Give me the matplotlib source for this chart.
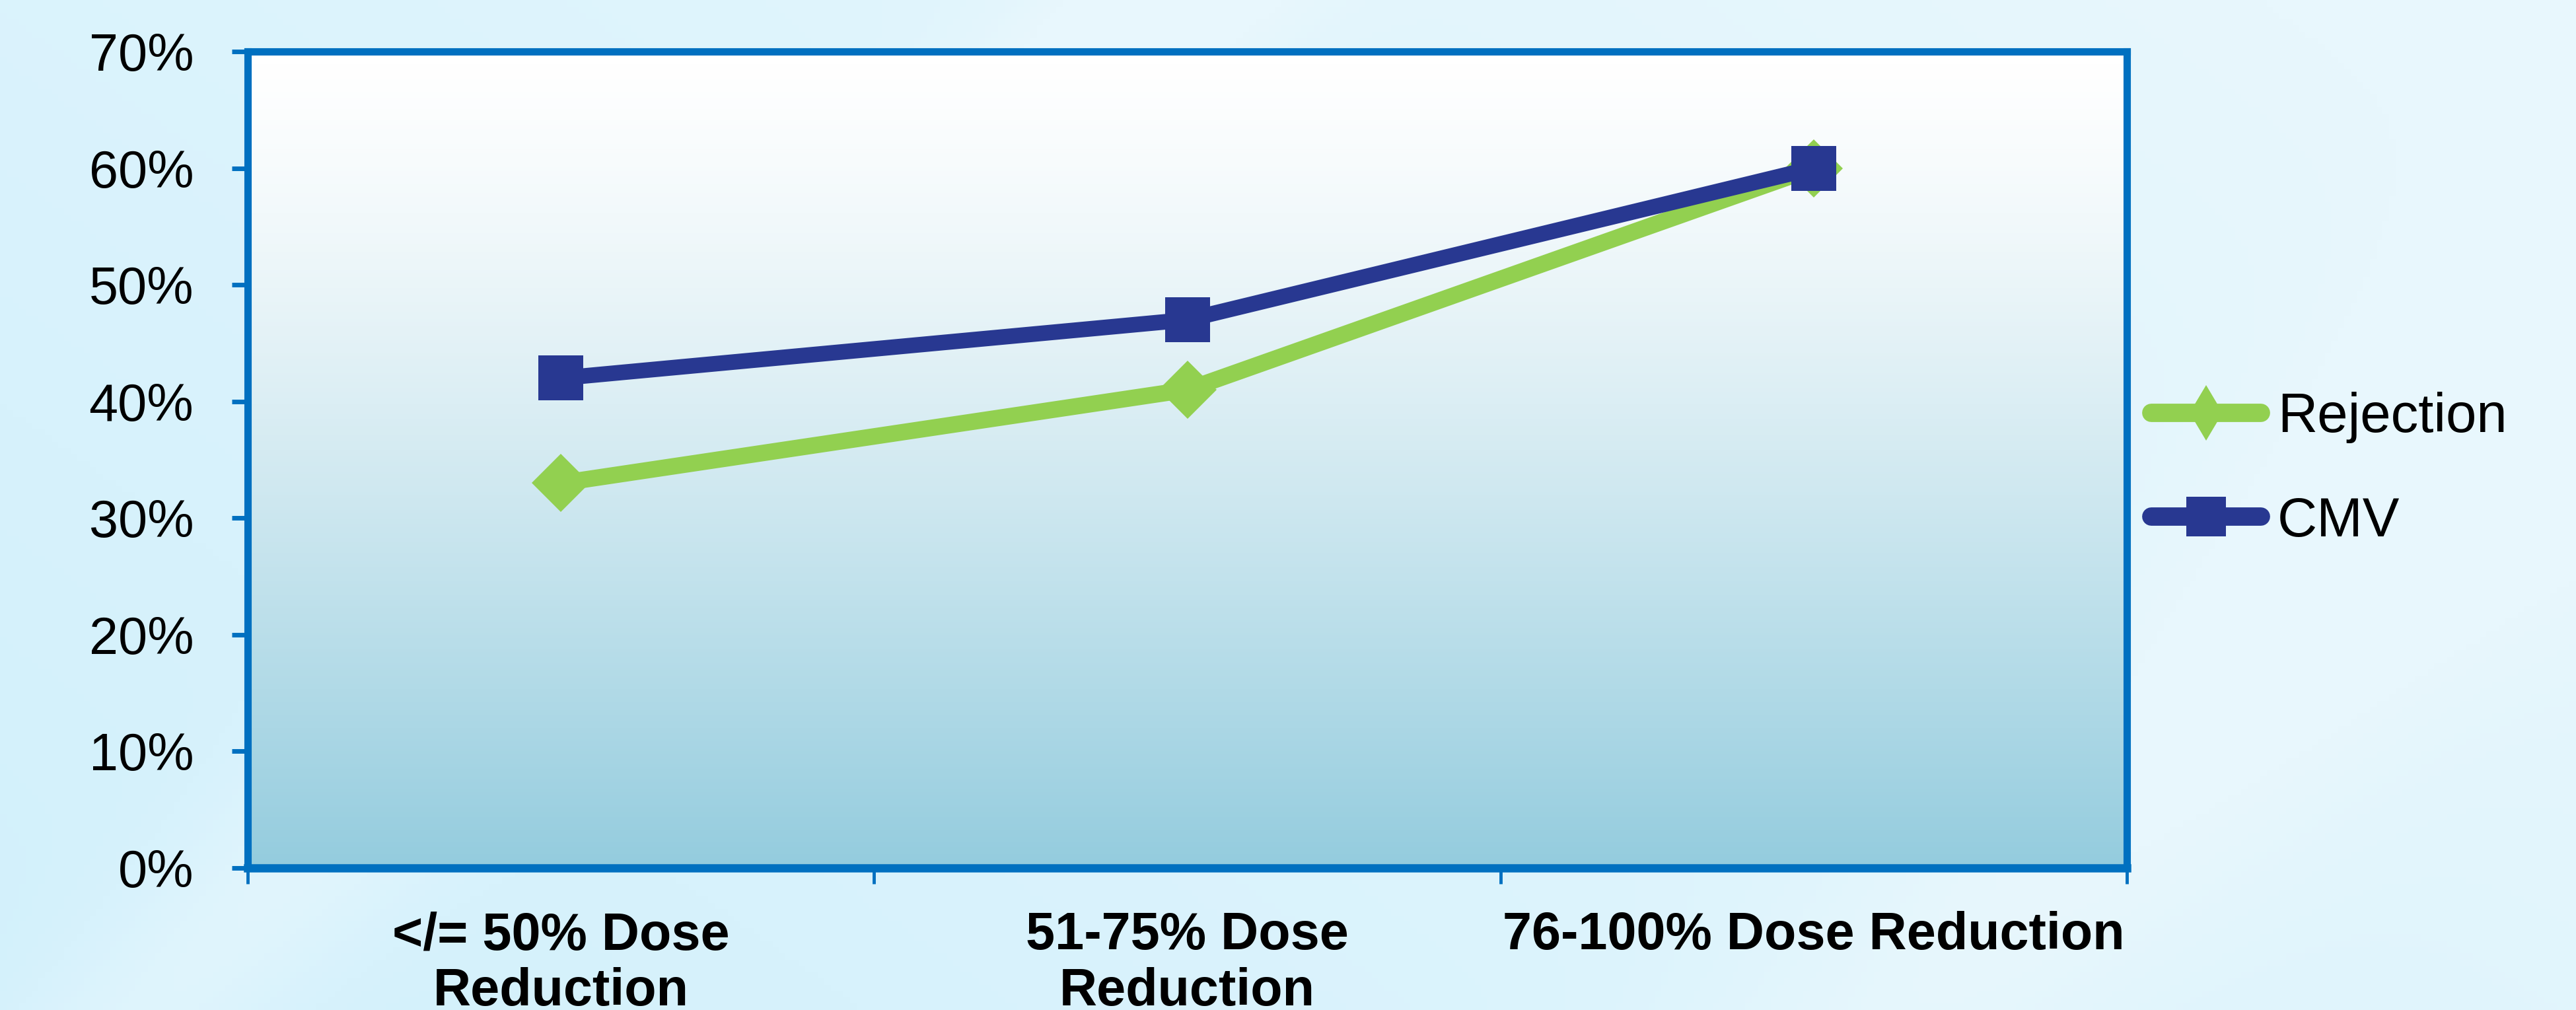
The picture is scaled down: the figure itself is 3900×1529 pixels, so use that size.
import numpy as np
import matplotlib.pyplot as plt
from matplotlib.lines import Line2D
from matplotlib.colors import LinearSegmentedColormap

categories = ["</= 50% Dose\nReduction", "51-75% Dose\nReduction", "76-100% Dose Reduction"]
rejection = [0.33, 0.41, 0.60]
cmv = [0.42, 0.47, 0.60]
yticks = [0.0, 0.1, 0.2, 0.3, 0.4, 0.5, 0.6, 0.7]
ytick_labels = ["0%", "10%", "20%", "30%", "40%", "50%", "60%", "70%"]

sans = ["Liberation Sans", "DejaVu Sans"]
axis_blue = "#0070C0"
green = "#92D050"
navy = "#283891"

fig = plt.figure(figsize=(39, 15.29), dpi=100)

# slide background: light cyan with soft diagonal streaks
bg = fig.add_axes([0, 0, 1, 1], zorder=-10)
gx, gy = np.meshgrid(np.linspace(0, 1, 400), np.linspace(0, 1, 160))
base = 0.35 + 0.45 * gx + 0.25 * (1 - gy)
streak1 = 0.35 * np.exp(-((gx * 2.55 + gy - 1.15) ** 2) / 0.02)
streak2 = 0.25 * np.exp(-((gx * 2.55 + gy - 2.9) ** 2) / 0.05)
field = np.clip(base + streak1 + streak2, 0, 1)
bg_cmap = LinearSegmentedColormap.from_list("bg", ["#C6EDFB", "#E8F7FD"])
bg.imshow(field, cmap=bg_cmap, aspect="auto", extent=[0, 1, 0, 1], origin="upper", vmin=0, vmax=1)
bg.axis("off")

ax = fig.add_axes([0.0962, 0.1406, 0.7294, 0.8084])

# plot area gradient, white at top to teal blue at bottom
t = np.linspace(0, 1, 256) ** 1.3
grad = np.tile(t[:, None], (1, 2))
area_cmap = LinearSegmentedColormap.from_list("area", ["#FFFFFF", "#94CCDE"])
ax.imshow(grad, cmap=area_cmap, aspect="auto", extent=[-0.5, 2.5, 0.0, 0.7],
          origin="upper", zorder=0, interpolation="bilinear")

x = np.arange(len(categories))
ax.plot(x, rejection, color=green, lw=18, marker="D", ms=45, mew=0, zorder=3,
        solid_joinstyle="miter")
ax.plot(x, cmv, color=navy, lw=17, marker="s", ms=49, mew=0, zorder=4,
        solid_joinstyle="miter")

ax.set_xlim(-0.5, 2.5)
ax.set_ylim(0, 0.7)

for side in ["left", "right", "top"]:
    ax.spines[side].set_color(axis_blue)
    ax.spines[side].set_linewidth(8)
ax.spines["bottom"].set_color(axis_blue)
ax.spines["bottom"].set_linewidth(9)

ax.set_yticks(yticks)
ax.set_yticklabels(ytick_labels, family=sans, fontsize=57)
ax.tick_params(axis="y", length=17, width=5, color=axis_blue, pad=42)

ax.set_xticks(x)
ax.set_xticklabels(categories, family=sans, fontweight="bold", fontsize=57,
                   linespacing=1.17, va="top")
ax.set_xticks([-0.5, 0.5, 1.5, 2.5], minor=True)
ax.tick_params(axis="x", which="major", length=0, pad=47)
ax.tick_params(axis="x", which="minor", length=17, width=3.5, color=axis_blue)

handles = [
    Line2D([], [], color=green, lw=20, marker="d", ms=43, mew=0, solid_capstyle="round"),
    Line2D([], [], color=navy, lw=20, marker="s", ms=43, mew=0, solid_capstyle="round"),
]
fig.legend(handles, ["Rejection", "CMV"], loc="center left",
           bbox_to_anchor=(0.835, 0.535), bbox_transform=fig.transFigure,
           frameon=False, prop={"family": sans, "size": 60},
           handlelength=2.0, handletextpad=0.3, labelspacing=0.95,
           borderpad=0, borderaxespad=0)

fig.savefig("out.png", dpi=100)
